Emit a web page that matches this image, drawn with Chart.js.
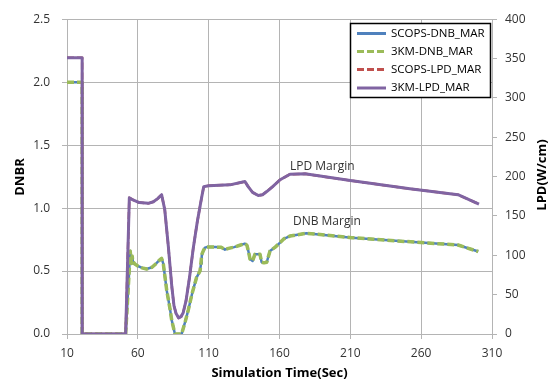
<!DOCTYPE html>
<html>
<head>
<meta charset="utf-8">
<script src="https://cdn.jsdelivr.net/npm/chart.js@4"></script>
<style>
  html, body { margin: 0; padding: 0; background: #fff; }
  #wrap { width: 555px; height: 383px; position: relative; }
</style>
</head>
<body>
<div id="wrap"><canvas id="c" width="555" height="383"></canvas></div>
<script>
// Simulation time (s) and DNB margin (DNBR, left axis)
const dnbTime = [10, 20.7, 20.7, 51.4, 53.8, 54.6, 55.2, 55.6, 56.0, 56.4, 57.0, 58.0, 60, 63, 66.2, 70, 73, 75.6, 76.8, 78.0, 80.4, 82.7, 83.9, 86.2, 90.9, 93.5, 95.6, 98.5, 101.5, 103.9, 104.6, 105.1, 106.2, 107.4, 108.6, 114.5, 119, 121.5, 124, 128, 132, 135.6, 137, 138, 139.2, 141, 142.7, 146.2, 147.4, 149, 151, 153.3, 157, 160.4, 163, 167.4, 179, 211, 260, 286, 300.3];
const scopsDnb = [2.0, 2.0, 0, 0, 0.48, 0.66, 0.6, 0.56, 0.61, 0.58, 0.56, 0.555, 0.54, 0.525, 0.516, 0.53, 0.56, 0.59, 0.6, 0.556, 0.346, 0.2, 0.11, 0.0, 0.0, 0.1, 0.19, 0.33, 0.45, 0.5, 0.56, 0.62, 0.66, 0.686, 0.69, 0.69, 0.688, 0.67, 0.68, 0.69, 0.705, 0.718, 0.705, 0.66, 0.595, 0.58, 0.634, 0.634, 0.57, 0.565, 0.57, 0.66, 0.69, 0.726, 0.755, 0.778, 0.8, 0.765, 0.726, 0.707, 0.655];
const km3Dnb   = [2.0, 2.0, 0, 0, 0.48, 0.66, 0.59, 0.56, 0.62, 0.58, 0.57, 0.555, 0.54, 0.525, 0.516, 0.53, 0.56, 0.59, 0.6, 0.556, 0.346, 0.2, 0.11, 0.0, 0.0, 0.1, 0.19, 0.33, 0.45, 0.5, 0.57, 0.63, 0.66, 0.686, 0.69, 0.69, 0.688, 0.67, 0.68, 0.69, 0.705, 0.718, 0.705, 0.66, 0.595, 0.58, 0.634, 0.634, 0.57, 0.565, 0.57, 0.66, 0.69, 0.726, 0.755, 0.778, 0.8, 0.765, 0.726, 0.707, 0.655];

// Simulation time (s) and linear power density margin (W/cm, right axis)
const lpdTime = [10, 20.7, 20.7, 51.4, 54.0, 57, 61, 67.4, 71, 74, 76.8, 79, 81.5, 84, 85.5, 87, 88.8, 90.5, 92, 94, 96.5, 99.2, 102, 105, 106.5, 110, 125, 135.6, 138, 141, 145, 148, 151, 155, 160.4, 167.4, 178, 210, 252, 286, 300.8];
const scopsLpd = [351, 351, 0, 0, 173, 170, 167, 166, 168, 172, 177, 158, 112, 60, 36, 26, 20.5, 22, 27, 42, 72, 110, 143, 173, 187, 188.5, 189.5, 193.7, 187, 180, 176, 177, 181, 187, 196, 203, 203.5, 195, 184.5, 177, 165];
const km3Lpd   = [351, 351, 0, 0, 173, 170, 167, 166, 168, 172, 177, 158, 112, 60, 36, 26, 20.5, 22, 27, 42, 72, 110, 143, 173, 187, 188.5, 189.5, 193.7, 187, 180, 176, 177, 181, 187, 196, 203, 203.5, 195, 184.5, 177, 165];

const seriesNames = ['SCOPS-DNB_MAR', '3KM-DNB_MAR', 'SCOPS-LPD_MAR', '3KM-LPD_MAR'];
const xTicks = [10, 60, 110, 160, 210, 260, 310];
const dnbrTicks = [0, 0.5, 1.0, 1.5, 2.0, 2.5];
const lpdTicks = [0, 50, 100, 150, 200, 250, 300, 350, 400];

const FONT = '"Open Sans", "DejaVu Sans", sans-serif';
const GRID = '#b4b4b4';
const TEXT = '#333333';

const pts = (xs, ys) => xs.map((x, i) => ({ x: x, y: ys[i] }));

const datasets = [
  { label: seriesNames[0], data: pts(dnbTime, scopsDnb), yAxisID: 'y',
    borderColor: '#4F81BD', borderWidth: 2.5, order: 4 },
  { label: seriesNames[1], data: pts(dnbTime, km3Dnb), yAxisID: 'y',
    borderColor: '#9BBB59', borderWidth: 3.5, borderDash: [7, 3], order: 3 },
  { label: seriesNames[2], data: pts(lpdTime, scopsLpd), yAxisID: 'y2',
    borderColor: '#C0504D', borderWidth: 2.5, borderDash: [7, 3], order: 2 },
  { label: seriesNames[3], data: pts(lpdTime, km3Lpd), yAxisID: 'y2',
    borderColor: '#8064A2', borderWidth: 3, order: 1 }
].map(d => Object.assign({ pointRadius: 0, fill: false, tension: 0,
                           borderJoinStyle: 'round', borderCapStyle: 'butt' }, d));

// Legend box, axis titles and curve labels drawn on the canvas
const decorations = {
  id: 'decorations',
  afterDraw(chart) {
    const ctx = chart.ctx;
    const xs = chart.scales.x, ys = chart.scales.y, y2 = chart.scales.y2;
    ctx.save();

    // axis titles
    ctx.fillStyle = '#000';
    ctx.font = 'bold 13px ' + FONT;
    ctx.textAlign = 'center';
    ctx.textBaseline = 'middle';
    ctx.fillText('Simulation Time(Sec)', (chart.chartArea.left + chart.chartArea.right) / 2, 373);
    ctx.save();
    ctx.translate(20, 177);
    ctx.rotate(-Math.PI / 2);
    ctx.fillText('DNBR', 0, 0);
    ctx.restore();
    ctx.save();
    ctx.translate(542, 175);
    ctx.rotate(-Math.PI / 2);
    ctx.fillText('LPD(W/cm)', 0, 0);
    ctx.restore();

    // curve labels
    ctx.fillStyle = TEXT;
    ctx.font = '12px ' + FONT;
    ctx.textAlign = 'left';
    ctx.fillText('LPD Margin', xs.getPixelForValue(167.4), y2.getPixelForValue(212.5));
    ctx.fillText('DNB Margin', xs.getPixelForValue(169.5), ys.getPixelForValue(0.89));

    // legend
    const bx = 350.5, by = 23.5, bw = 140, bh = 74;
    ctx.fillStyle = '#fff';
    ctx.fillRect(bx, by, bw, bh);
    ctx.strokeStyle = '#000';
    ctx.lineWidth = 1.5;
    ctx.setLineDash([]);
    ctx.strokeRect(bx, by, bw, bh);
    const rows = [33.5, 51.5, 69.5, 88];
    ctx.font = '11.5px ' + FONT;
    ctx.textBaseline = 'middle';
    chart.data.datasets.forEach((d, i) => {
      const yy = rows[i];
      ctx.strokeStyle = d.borderColor;
      ctx.lineWidth = 3;
      ctx.setLineDash(d.borderDash || []);
      ctx.beginPath();
      ctx.moveTo(357, yy);
      ctx.lineTo(386, yy);
      ctx.stroke();
      ctx.setLineDash([]);
      ctx.fillStyle = '#000';
      ctx.fillText(d.label, 391, yy);
    });
    ctx.restore();
  }
};

new Chart(document.getElementById('c'), {
  type: 'line',
  data: { datasets: datasets },
  plugins: [decorations],
  options: {
    responsive: false,
    animation: false,
    events: [],
    layout: { padding: { top: 16, left: 0, right: 0, bottom: 0 } },
    plugins: { legend: { display: false }, tooltip: { enabled: false } },
    scales: {
      x: {
        type: 'linear', min: 10, max: 310,
        afterBuildTicks: s => { s.ticks = xTicks.map(v => ({ value: v })); },
        afterFit: s => { s.height = 49; },
        grid: { color: GRID, lineWidth: 1, tickLength: 5, tickColor: GRID },
        border: { color: GRID, width: 1 },
        ticks: { color: TEXT, font: { family: FONT, size: 12 }, padding: 7, maxRotation: 0,
                 callback: v => String(v) }
      },
      y: {
        position: 'left', min: 0, max: 2.5,
        afterBuildTicks: s => { s.ticks = dnbrTicks.map(v => ({ value: v })); },
        afterFit: s => { s.width = 67; },
        grid: { color: GRID, lineWidth: 1, tickLength: 5, tickColor: GRID },
        border: { color: GRID, width: 1 },
        ticks: { color: TEXT, font: { family: FONT, size: 12 }, padding: 12,
                 callback: v => Number(v).toFixed(1) }
      },
      y2: {
        position: 'right', min: 0, max: 400,
        afterBuildTicks: s => { s.ticks = lpdTicks.map(v => ({ value: v })); },
        afterFit: s => { s.width = 63; },
        grid: { drawOnChartArea: false, color: GRID, tickLength: 5, tickColor: GRID },
        border: { color: GRID, width: 1 },
        ticks: { color: TEXT, font: { family: FONT, size: 12 }, padding: 8,
                 callback: v => String(v) }
      }
    }
  }
});
</script>
</body>
</html>
